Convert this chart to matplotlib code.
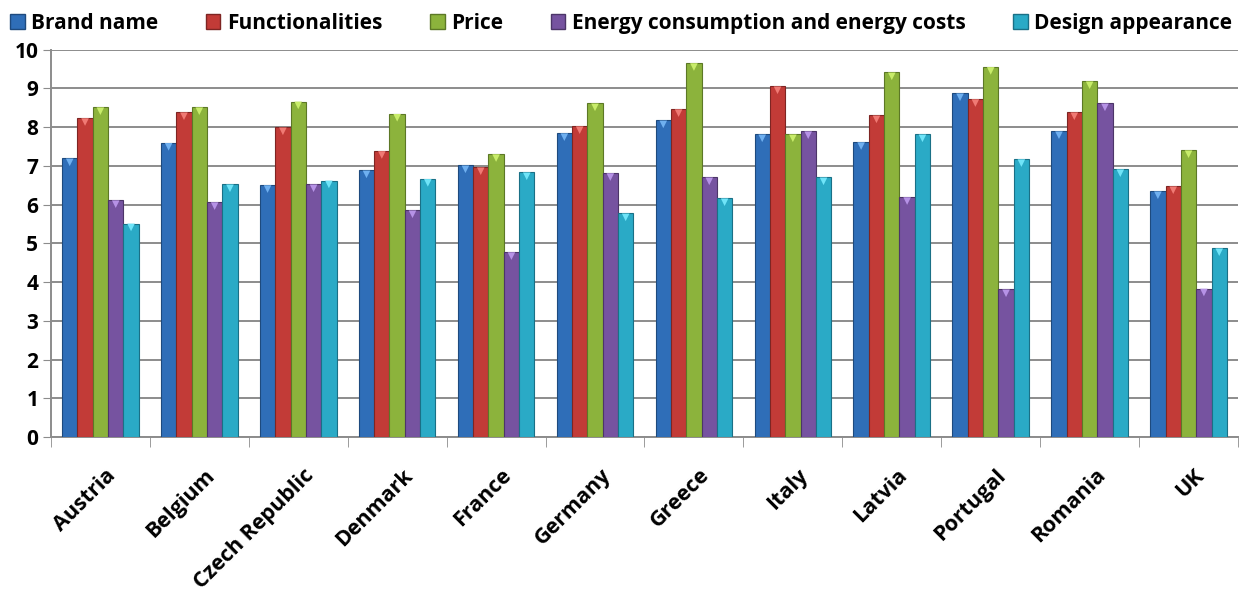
import numpy as np
import matplotlib.pyplot as plt
import matplotlib.transforms as mtransforms
from matplotlib.patches import Patch

plt.rcParams["font.family"] = ["Open Sans", "DejaVu Sans"]
plt.rcParams["font.weight"] = "bold"

# ============================================================
# Data
# ============================================================

countries = ["Austria", "Belgium", "Czech Republic", "Denmark", "France", "Germany",
             "Greece", "Italy", "Latvia", "Portugal", "Romania", "UK"]

brand_name = [7.19, 7.59, 6.50, 6.88, 7.01, 7.84, 8.17, 7.81, 7.61, 8.87, 7.89, 6.34]
functionalities = [8.23, 8.38, 7.99, 7.38, 6.96, 8.02, 8.46, 9.05, 8.30, 8.72, 8.38, 6.47]
price = [8.51, 8.51, 8.66, 8.34, 7.30, 8.61, 9.65, 7.81, 9.41, 9.55, 9.18, 7.40]
energy = [6.11, 6.06, 6.52, 5.85, 4.77, 6.81, 6.70, 7.89, 6.19, 3.81, 8.61, 3.83]
design = [5.51, 6.52, 6.62, 6.66, 6.83, 5.77, 6.16, 6.70, 7.81, 7.17, 6.91, 4.87]

series_names = ["Brand name", "Functionalities", "Price",
                "Energy consumption and energy costs", "Design appearance"]
series_values = [brand_name, functionalities, price, energy, design]

colors = ["#2F6EB8", "#C23B37", "#8CB33C", "#7653A0", "#2AAAC6"]
tips = ["#6FB0F0", "#F07A74", "#C8EC6A", "#B692E6", "#6FE4F8"]
edges = ["#1E4A7E", "#7E2523", "#5C7826", "#4C3568", "#1A7086"]

# ============================================================
# Plot
# ============================================================

fig = plt.figure(figsize=(12.42, 5.94), dpi=100)
ax = fig.add_axes([0.041, 0.2643, 0.9558, 0.6522])

x = np.arange(len(countries))
bar_w = 0.155
offsets = (np.arange(5) - 2) * bar_w

for vals, off, c, tc, ec in zip(series_values, offsets, colors, tips, edges):
    ax.bar(x + off, vals, width=bar_w, color=c, edgecolor=ec, linewidth=0.8, zorder=3)
    ax.scatter(x + off, np.array(vals) - 0.1, marker="v", s=30, color=tc,
               edgecolor="none", zorder=4)

ax.set_xlim(-0.5, len(countries) - 0.5)
ax.set_ylim(0, 10)
ax.set_yticks(range(0, 11))
ax.set_yticklabels([str(v) for v in range(0, 11)], fontsize=15, fontweight="bold")
ax.tick_params(axis="y", length=6, color="#8C8C8C", pad=3)

ax.set_xticks(x)
ax.set_xticklabels(countries, rotation=45, ha="right", rotation_mode="anchor",
                   fontsize=15.5, fontweight="bold")
ax.tick_params(axis="x", length=0, pad=20)
ax.set_xticks(np.arange(-0.5, len(countries)), minor=True)
ax.tick_params(axis="x", which="minor", length=7, color="#8C8C8C")

# nudge the rotated labels a little to the right, like the original
shift = mtransforms.ScaledTranslation(5 / 100, 0, fig.dpi_scale_trans)
for lab in ax.get_xticklabels():
    lab.set_transform(lab.get_transform() + shift)

ax.grid(axis="y", color="#8C8C8C", linewidth=1.4, zorder=0)
for s in ["top", "right"]:
    ax.spines[s].set_visible(False)
for s in ["left", "bottom"]:
    ax.spines[s].set_color("#8C8C8C")
    ax.spines[s].set_linewidth(1.4)

handles = [Patch(facecolor=c, edgecolor=ec) for c, ec in zip(colors, edges)]
fig.legend(handles, series_names, loc="upper center", bbox_to_anchor=(0.5, 1.01),
           ncol=5, frameon=False, handlelength=0.7, handleheight=0.7,
           handletextpad=0.3, columnspacing=2.3,
           prop={"size": 15, "weight": "bold"})

fig.savefig("out.png", dpi=100)
